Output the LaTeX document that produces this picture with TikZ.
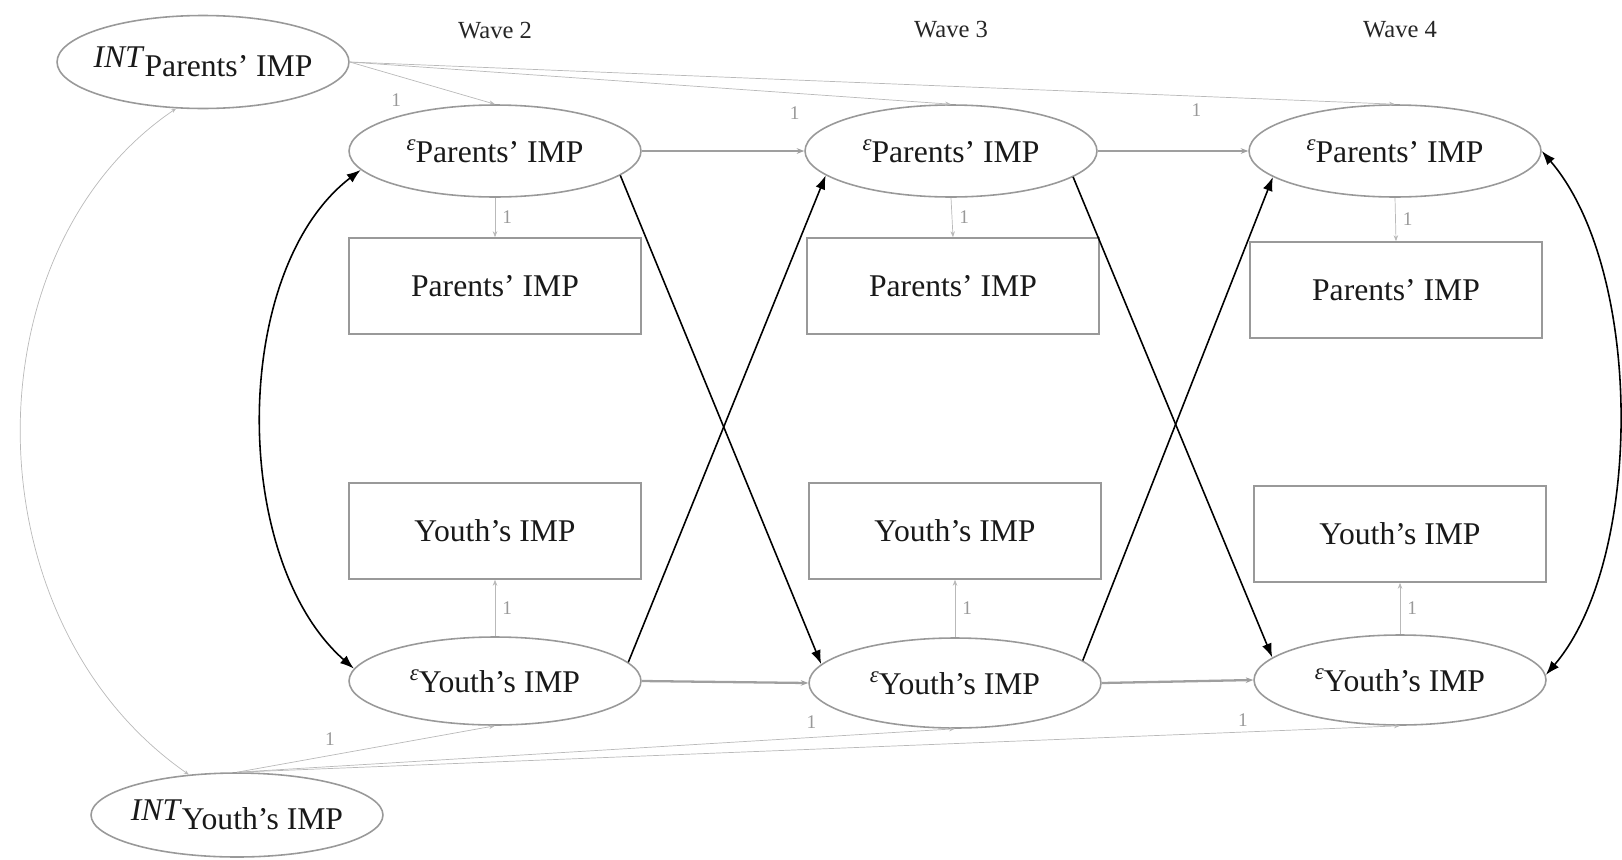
\documentclass[tikz,border=0pt]{standalone}
\usepackage{fontspec}
\setmainfont{Liberation Serif}
\usetikzlibrary{shapes.geometric, arrows.meta}

\newcommand{\errlab}[1]{\raisebox{7pt}{\fontsize{13}{13}\selectfont\textit{ε}}#1}
\newcommand{\intlab}[1]{\raisebox{5pt}{\textit{INT}}#1}

\begin{document}
\begin{tikzpicture}[x = 0.02cm, y = -0.02cm,
  latent/.style = {ellipse, line width = 0.9pt, draw = gray!80, inner sep = 0pt, minimum width = 5.84cm, minimum height = 1.84cm, font = \fontsize{18}{20}\selectfont, text = black!90},
  intercept/.style = {latent, inner xsep = -6.5pt},
  observed/.style = {rectangle, line width = 0.9pt, draw = gray!80, inner sep = 0pt, minimum width = 5.84cm, minimum height = 1.92cm, font = \fontsize{18}{20}\selectfont, text = black!90},
  wave/.style = {font = \fontsize{14}{16}\selectfont, text = black!85},
  one/.style = {font = \fontsize{11}{12}\selectfont, text = gray!80, inner sep = 1pt},
  load/.style = {draw, gray!55, line width = 0.4pt, -{Stealth[length = 1.2mm]}},
  auto/.style = {draw, gray!75, line width = 1.3pt, -{Stealth[length = 1.5mm]}},
  cross/.style = {draw, black, line width = 0.9pt, -{Latex[length = 2.8mm, width = 2mm]}},
  cov/.style = {draw, black, line width = 0.9pt, {Latex[length = 2.8mm, width = 2mm]}-{Latex[length = 2.8mm, width = 2mm]}}]

\useasboundingbox (0, 0) rectangle (1622, 859);

% waves
\node[wave] (w2) at (495, 31) {Wave 2};
\node[wave] (w3) at (951, 30) {Wave 3};
\node[wave] (w4) at (1400, 30) {Wave 4};

% intercepts
\node[intercept, minimum height = 1.86cm] (intpar) at (203, 62) {\intlab{Parents' IMP}};
\node[intercept, minimum height = 1.68cm] (intyou) at (237, 815) {\intlab{Youth's IMP}};

% residual factors
\node[latent] (epar2) at (495, 151) {\errlab{Parents' IMP}};
\node[latent] (epar3) at (951, 151) {\errlab{Parents' IMP}};
\node[latent] (epar4) at (1395, 151) {\errlab{Parents' IMP}};

\node[latent, minimum height = 1.76cm] (eyou2) at (495, 681) {\errlab{Youth's IMP}};
\node[latent, minimum height = 1.8cm] (eyou3) at (955, 683) {\errlab{Youth's IMP}};
\node[latent, minimum height = 1.8cm] (eyou4) at (1400, 680) {\errlab{Youth's IMP}};

% observed
\node[observed] (rpar2) at (495, 286) {Parents' IMP};
\node[observed] (rpar3) at (953, 286) {Parents' IMP};
\node[observed] (rpar4) at (1396, 290) {Parents' IMP};

\node[observed] (ryou2) at (495, 531) {Youth's IMP};
\node[observed] (ryou3) at (955, 531) {Youth's IMP};
\node[observed] (ryou4) at (1400, 534) {Youth's IMP};

% intercept loadings
\path [load] (intpar.east) -- node [one, pos = 0.32, below = 9pt] {1} (epar2.north);
\path [load] (intpar.east) -- node [one, pos = 0.74, below = 6.5pt] {1} (epar3.north);
\path [load] (intpar.east) -- node [one, pos = 0.81, below = 3pt] {1} (epar4.north);

\path [load] (intyou.north) -- node [one, pos = 0.36, above = 4.5pt] {1} (eyou2.south);
\path [load] (intyou.north) -- node [one, pos = 0.80, above = 4pt] {1} (eyou3.south);
\path [load] (intyou.north) -- node [one, pos = 0.865, above = 2pt] {1} (eyou4.south);

\path [draw, gray!55, line width = 0.4pt, {Stealth[length = 1mm]}-{Stealth[length = 1mm]}] (intpar.240) .. controls (-33, 250) and (-33, 620) .. (intyou.140);

% measurement
\path [load] (epar2.south) -- node [one, midway, right = 3pt] {1} (rpar2.north);
\path [load] (epar3.south) -- node [one, midway, right = 3pt] {1} (rpar3.north);
\path [load] (epar4.south) -- node [one, midway, right = 3pt] {1} (rpar4.north);

\path [load] (eyou2.north) -- node [one, midway, right = 3pt] {1} (ryou2.south);
\path [load] (eyou3.north) -- node [one, midway, right = 3pt] {1} (ryou3.south);
\path [load] (eyou4.north) -- node [one, midway, right = 3pt] {1} (ryou4.south);

% autoregressive
\path [auto] (epar2.east) -- (epar3.west);
\path [auto] (epar3.east) -- (epar4.west);
\path [auto] (eyou2.east) -- (eyou3.west);
\path [auto] (eyou3.east) -- (eyou4.west);

% cross-lagged
\path [cross] (epar2.-11) -- (eyou3.172);
\path [cross] (eyou2.8) -- (epar3.191);
\path [cross] (epar3.-12) -- (eyou4.170);
\path [cross] (eyou3.10) -- (epar4.192);

% within-wave covariances
\path [cov] (epar2.188) .. controls (230, 270) and (230, 560) .. (eyou2.175);
\path [cov] (epar4.0) .. controls (1644, 270) and (1644, 560) .. (eyou4.2);

\end{tikzpicture}
\end{document}
